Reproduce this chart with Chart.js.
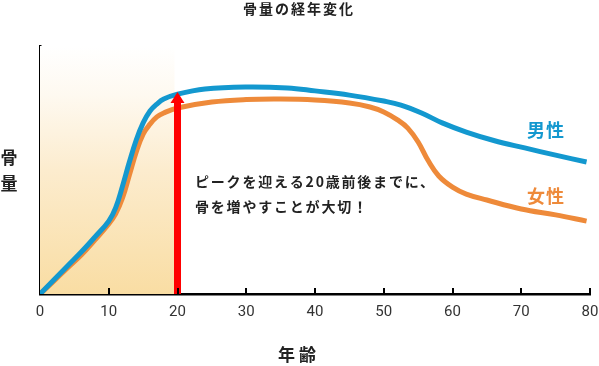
<!DOCTYPE html>
<html>
<head>
<meta charset="utf-8">
<script src="https://cdn.jsdelivr.net/npm/chart.js@4/dist/chart.umd.min.js"></script>
<style>
html,body{margin:0;padding:0;background:#fff;}
#wrap{width:599px;height:366px;position:relative;}
</style>
</head>
<body>
<div id="wrap"><canvas id="c" width="599" height="366"></canvas></div>
<script>
// ---- data ----
const chartTitle = '骨量の経年変化';
const xTitle = '年 齢';
const yTitleChars = ['骨', '量'];
const xTicks = [0, 10, 20, 30, 40, 50, 60, 70, 80];
const seriesNames = ['男性', '女性'];
const maleAges   = [0, 2, 4, 6, 8, 10, 11, 12, 13, 14, 15, 16, 17, 18, 20, 24, 30, 36, 40, 45, 50, 52.5, 55.5, 58.5, 62, 66, 70.5, 75, 79.5];
const maleValues = [0, 5.6, 11.3, 16.9, 23.0, 29.4, 34.7, 43.5, 53.2, 62.1, 69.0, 73.8, 76.6, 78.6, 80.6, 82.7, 83.5, 83.1, 81.9, 80.2, 77.8, 76.2, 73.0, 69.0, 65.3, 61.9, 58.9, 56.0, 53.2];
const femaleAges   = [0, 2, 4, 6, 8, 10, 11, 12, 13, 14, 15, 16, 17, 18, 20, 25, 30, 35, 40, 45, 48, 50, 52, 53.5, 55, 56.5, 58, 60, 62, 65, 70, 75, 79.5];
const femaleValues = [0, 5.2, 10.5, 15.7, 21.8, 28.2, 32.3, 38.7, 48.0, 57.3, 64.5, 68.5, 71.4, 73.0, 75.0, 77.4, 78.4, 78.6, 78.2, 77.0, 75.4, 73.4, 70.2, 66.9, 61.3, 53.6, 47.6, 43.1, 40.3, 37.9, 34.3, 31.9, 29.4];
const peakAge = 20;
const noteLines = ['ピークを迎える20歳前後までに、', '骨を増やすことが大切！'];

const BLUE = '#1398cf';
const ORANGE = '#ee8a3a';
const JP = '"Noto Sans CJK JP", "Noto Sans", sans-serif';

const toXY = (xs, ys) => xs.map((x, i) => ({x: x, y: ys[i]}));

const decor = {
  id: 'decor',
  beforeDatasetsDraw(chart) {
    const {ctx} = chart;
    const xs = chart.scales.x, ys = chart.scales.y;
    const x0 = xs.getPixelForValue(0), x1 = xs.getPixelForValue(peakAge) - 3;
    const yb = ys.getPixelForValue(0), yt = ys.getPixelForValue(100);
    const g = ctx.createLinearGradient(0, yb, 0, yt);
    g.addColorStop(0, 'rgb(249,221,163)');
    g.addColorStop(0.5, 'rgb(252,236,206)');
    g.addColorStop(0.8, 'rgb(254,249,240)');
    g.addColorStop(1, 'rgb(255,255,255)');
    ctx.save();
    ctx.fillStyle = g;
    ctx.fillRect(x0, yt, x1 - x0, yb - yt);
    ctx.restore();
  },
  afterDatasetsDraw(chart) {
    const {ctx} = chart;
    const xs = chart.scales.x, ys = chart.scales.y;
    const ax = xs.getPixelForValue(peakAge);
    const i = maleAges.indexOf(peakAge);
    const tipY = ys.getPixelForValue(maleValues[i]) - 2;
    const baseY = ys.getPixelForValue(0);
    ctx.save();
    ctx.fillStyle = '#ff0000';
    ctx.fillRect(ax - 3.5, tipY + 10, 7, baseY - tipY - 10);
    ctx.beginPath();
    ctx.moveTo(ax, tipY);
    ctx.lineTo(ax - 7, tipY + 11);
    ctx.lineTo(ax + 7, tipY + 11);
    ctx.closePath();
    ctx.fill();
    ctx.restore();
  },
  afterDraw(chart) {
    const {ctx} = chart;
    const xs = chart.scales.x, ys = chart.scales.y;
    const yb = ys.getPixelForValue(0);
    ctx.save();
    ctx.strokeStyle = '#000';
    ctx.lineWidth = 2;
    xTicks.forEach(v => {
      if (v === 0) return;
      const px = Math.round(xs.getPixelForValue(v));
      ctx.beginPath();
      ctx.moveTo(px, yb);
      ctx.lineTo(px, yb - 6);
      ctx.stroke();
    });
    ctx.fillStyle = '#222';
    ctx.textAlign = 'center';
    ctx.textBaseline = 'middle';
    ctx.letterSpacing = '2px';
    ctx.font = 'bold 14px ' + JP;
    ctx.fillText(chartTitle, 299, 9);
    ctx.letterSpacing = '0px';
    ctx.font = 'bold 17px ' + JP;
    ctx.fillText(xTitle, 297, 355);
    ctx.fillText(yTitleChars[0], 9, 158);
    ctx.fillText(yTitleChars[1], 9, 184);
    ctx.textAlign = 'left';
    ctx.font = 'bold 18px ' + JP;
    ctx.letterSpacing = '1px';
    ctx.fillStyle = BLUE;
    ctx.fillText(seriesNames[0], 527, 130);
    ctx.fillStyle = ORANGE;
    ctx.fillText(seriesNames[1], 527, 196);
    ctx.fillStyle = '#222';
    ctx.font = 'bold 14px ' + JP;
    ctx.letterSpacing = '1.8px';
    ctx.fillText(noteLines[0], 195, 182);
    ctx.fillText(noteLines[1], 195, 207);
    ctx.restore();
  }
};

new Chart(document.getElementById('c'), {
  type: 'line',
  data: {
    datasets: [
      {label: seriesNames[0], data: toXY(maleAges, maleValues), borderColor: BLUE, borderWidth: 5, pointRadius: 0, tension: 0.4, fill: false},
      {label: seriesNames[1], data: toXY(femaleAges, femaleValues), borderColor: ORANGE, borderWidth: 5, pointRadius: 0, tension: 0.4, fill: false}
    ]
  },
  options: {
    responsive: false,
    animation: false,
    layout: {padding: {left: 0, right: 9, top: 46, bottom: 0}},
    plugins: {legend: {display: false}, tooltip: {enabled: false}, title: {display: false}},
    scales: {
      x: {
        type: 'linear', min: 0, max: 80,
        afterFit: s => { s.height = 72; s.paddingLeft = 0; s.paddingRight = 0; },
        afterBuildTicks: s => { s.ticks = xTicks.map(v => ({value: v})); },
        grid: {display: false, drawTicks: false},
        border: {display: true, color: '#000', width: 2.5},
        ticks: {padding: 9, color: '#333', font: {family: 'Roboto', size: 15}, maxRotation: 0, autoSkip: false}
      },
      y: {
        min: 0, max: 100,
        afterFit: s => { s.width = 40; s.paddingTop = 0; s.paddingBottom = 0; },
        grid: {display: false, drawTicks: false},
        border: {display: true, color: '#000', width: 2.5},
        ticks: {display: false}
      }
    }
  },
  plugins: [decor]
});
</script>
</body>
</html>
